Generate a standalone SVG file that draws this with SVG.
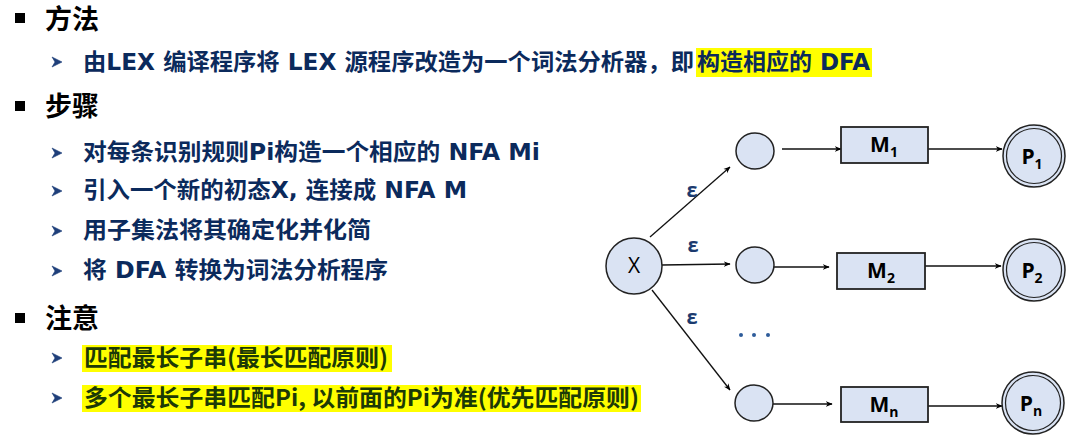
<svg xmlns="http://www.w3.org/2000/svg" width="1080" height="439" viewBox="0 0 1080 439">
  <defs>
    <marker id="arrow" viewBox="0 0 10 10" refX="9" refY="5" markerWidth="7" markerHeight="7" markerUnits="userSpaceOnUse" orient="auto">
      <path d="M0,1 L10,5 L0,9 L3,5 z" fill="#000"/>
    </marker>
    <g id="dart">
      <path d="M0,-5 L10,0 L0,5 L3,0 z" fill="#1f3f7a" stroke="#1f3f7a" stroke-width="0.6"/>
    </g>
  </defs>
  <style>
    .head { font-family: "Noto Sans CJK SC", "Liberation Sans", sans-serif; font-weight: 700; font-size: 27px; fill: #000; }
    .item { font-family: "DejaVu Sans", "Noto Sans CJK SC", sans-serif; font-weight: 700; font-size: 23px; fill: #0b2a5c; }
    .note { font-family: "Noto Sans CJK SC", "Liberation Sans", sans-serif; font-weight: 700; font-size: 23px; fill: #1c3a06; }
    .hl { fill: #ffff00; }
    .state { fill: #dae3f3; stroke: #222; stroke-width: 1.5; }
    .box { fill: #dae3f3; stroke: #222; stroke-width: 1.8; }
    .edge { stroke: #111; stroke-width: 1.3; fill: none; marker-end: url(#arrow); }
    .lbl { font-family: "Open Sans", "Liberation Sans", sans-serif; font-weight: 700; font-size: 21px; fill: #000; text-anchor: middle; }
    .sub { font-size: 14px; }
    .eps { font-family: "Open Sans", "Liberation Sans", sans-serif; font-weight: 700; font-size: 20px; fill: #1b3a6e; text-anchor: middle; }
    .xl { font-family: "Open Sans", "Liberation Sans", sans-serif; font-size: 21px; fill: #000; text-anchor: middle; }
  </style>

  <!-- Text outline -->
  <g id="outline">
    <rect x="15" y="13" width="10" height="10" fill="#000"/>
    <text class="head" x="45" y="29">方法</text>

    <rect class="hl" x="696" y="48" width="176" height="29"/>
    <use href="#dart" x="52" y="62"/>
    <text class="item" x="83" y="70" textLength="611" lengthAdjust="spacingAndGlyphs">由LEX 编译程序将 LEX 源程序改造为一个词法分析器，即</text>
    <text class="item" x="697" y="70" textLength="173" lengthAdjust="spacingAndGlyphs">构造相应的 DFA</text>

    <rect x="15" y="101" width="10" height="10" fill="#000"/>
    <text class="head" x="45" y="116">步骤</text>

    <use href="#dart" x="52" y="153"/>
    <text class="item" x="83" y="160" textLength="457" lengthAdjust="spacingAndGlyphs">对每条识别规则Pi构造一个相应的 NFA Mi</text>
    <use href="#dart" x="52" y="191"/>
    <text class="item" x="83" y="198" textLength="384" lengthAdjust="spacingAndGlyphs">引入一个新的初态X, 连接成 NFA M</text>
    <use href="#dart" x="52" y="231"/>
    <text class="item" x="83" y="238" textLength="288" lengthAdjust="spacingAndGlyphs">用子集法将其确定化并化简</text>
    <use href="#dart" x="52" y="271"/>
    <text class="item" x="83" y="278" textLength="305" lengthAdjust="spacingAndGlyphs">将 DFA 转换为词法分析程序</text>

    <rect x="15" y="313" width="10" height="10" fill="#000"/>
    <text class="head" x="45" y="328">注意</text>

    <rect class="hl" x="82" y="345" width="310" height="27"/>
    <use href="#dart" x="52" y="358"/>
    <text class="note" x="84" y="366" textLength="304" lengthAdjust="spacingAndGlyphs">匹配最长子串(最长匹配原则)</text>
    <rect class="hl" x="82" y="385" width="559" height="27"/>
    <use href="#dart" x="52" y="398"/>
    <text class="note" x="84" y="406" textLength="555" lengthAdjust="spacingAndGlyphs">多个最长子串匹配Pi, 以前面的Pi为准(优先匹配原则)</text>
  </g>

  <!-- Connectors -->
  <g id="connectors">
    <line class="edge" x1="650" y1="237" x2="730" y2="167"/>
    <line class="edge" x1="662" y1="265" x2="730" y2="264"/>
    <line class="edge" x1="652" y1="290" x2="730" y2="390"/>
    <line class="edge" x1="782" y1="149" x2="841" y2="149"/>
    <line class="edge" x1="770" y1="267" x2="829" y2="267"/>
    <line class="edge" x1="773" y1="404" x2="832" y2="404"/>
    <line class="edge" x1="928" y1="149" x2="1002" y2="149"/>
    <line class="edge" x1="925" y1="266" x2="1001" y2="266"/>
    <line class="edge" x1="928" y1="406" x2="1002" y2="406"/>
    <text class="eps" x="692" y="197">ε</text>
    <text class="eps" x="693" y="252">ε</text>
    <text class="eps" x="692" y="324">ε</text>
    <circle cx="741" cy="335" r="2" fill="#2e5c9a"/>
    <circle cx="754" cy="335" r="2" fill="#2e5c9a"/>
    <circle cx="768" cy="335" r="2" fill="#2e5c9a"/>
  </g>

  <!-- Start state -->
  <g id="node-x">
    <circle class="state" cx="634" cy="266" r="28"/>
    <text class="xl" x="634" y="273">X</text>
  </g>

  <!-- Entry states -->
  <g id="node-s1"><ellipse class="state" cx="755" cy="151" rx="19" ry="18"/></g>
  <g id="node-s2"><ellipse class="state" cx="755" cy="265" rx="19" ry="18"/></g>
  <g id="node-sn"><ellipse class="state" cx="754" cy="403" rx="19" ry="18"/></g>

  <!-- Sub-automata -->
  <g id="node-m1">
    <rect class="box" x="841" y="127" width="87" height="36"/>
    <text class="lbl" x="884" y="152">M<tspan class="sub" dy="5">1</tspan></text>
  </g>
  <g id="node-m2">
    <rect class="box" x="837" y="253" width="88" height="36"/>
    <text class="lbl" x="881" y="278">M<tspan class="sub" dy="5">2</tspan></text>
  </g>
  <g id="node-mn">
    <rect class="box" x="841" y="387" width="87" height="35"/>
    <text class="lbl" x="884" y="412">M<tspan class="sub" dy="5">n</tspan></text>
  </g>

  <!-- Accepting states -->
  <g id="node-p1">
    <circle class="state" cx="1034" cy="156" r="31"/>
    <circle fill="none" stroke="#222" stroke-width="1.2" cx="1034" cy="156" r="27.5"/>
    <text class="lbl" x="1032" y="164">P<tspan class="sub" dy="5">1</tspan></text>
  </g>
  <g id="node-p2">
    <circle class="state" cx="1034" cy="270" r="31"/>
    <circle fill="none" stroke="#222" stroke-width="1.2" cx="1034" cy="270" r="27.5"/>
    <text class="lbl" x="1032" y="278">P<tspan class="sub" dy="5">2</tspan></text>
  </g>
  <g id="node-pn">
    <circle class="state" cx="1033" cy="403" r="31"/>
    <circle fill="none" stroke="#222" stroke-width="1.2" cx="1033" cy="403" r="27.5"/>
    <text class="lbl" x="1031" y="411">P<tspan class="sub" dy="5">n</tspan></text>
  </g>
</svg>
